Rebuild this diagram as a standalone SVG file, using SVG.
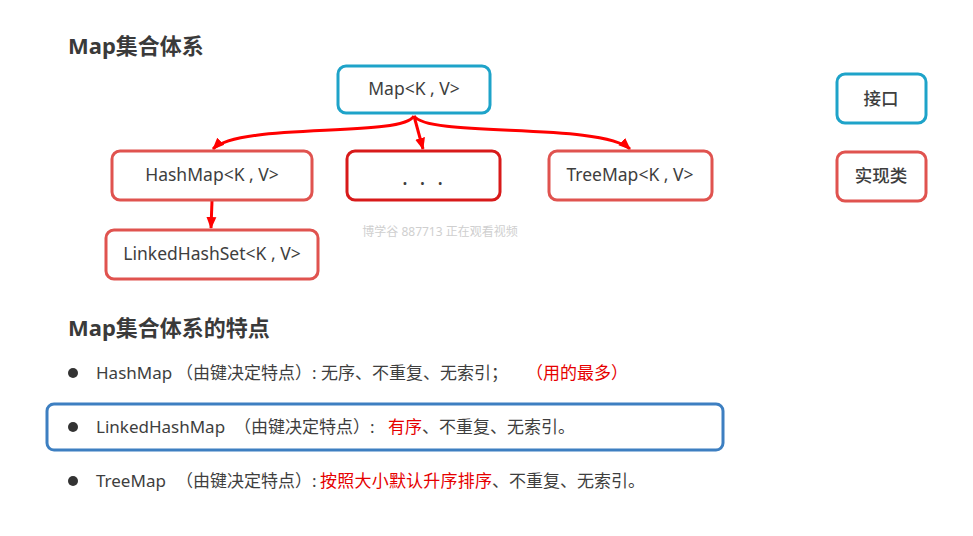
<svg xmlns="http://www.w3.org/2000/svg" width="973" height="536" viewBox="0 0 973 536">
<style>
text{font-family:"Noto Sans","Noto Sans CJK SC",sans-serif;fill:#3e3e3e}
.title{font-size:22px;font-weight:bold;fill:#3a3a3a}
.lbl{font-size:17.5px;text-anchor:middle}
.row{font-size:17px}
.red{fill:#e60000}
.ifc{fill:#fff;stroke:#1ea3c9;stroke-width:3}
.impl{fill:#fff;stroke:#e0534f;stroke-width:3}
.conn{fill:none;stroke:#ff0000;stroke-width:3}
.wm{font-size:12px;fill:#cfcfcf;text-anchor:middle}
</style>
<defs>
<marker id="ah" markerUnits="userSpaceOnUse" markerWidth="12" markerHeight="12" viewBox="0 0 12 12" refX="11" refY="6" orient="auto">
<path d="M0,1 L12,6 L0,11 Z" fill="#ff0000"/>
</marker>
</defs>
<rect width="973" height="536" fill="#fff"/>
<text class="title" x="68" y="54">Map集合体系</text>

<g id="conn">
<path class="conn" d="M414,116 C402,138 240,122 213,149" marker-end="url(#ah)"/>
<path class="conn" d="M414,116 L423,149" marker-end="url(#ah)"/>
<path class="conn" d="M414,116 C428,138 600,122 630,149" marker-end="url(#ah)"/>
<path class="conn" d="M212,201 L211,228" marker-end="url(#ah)"/>
</g>

<g id="map"><rect class="ifc" x="338" y="66" width="152" height="47" rx="8"/><text class="lbl" x="414" y="95">Map&lt;K , V&gt;</text></g>
<g id="hashmap"><rect class="impl" x="112" y="151" width="200" height="49" rx="8"/><text class="lbl" x="212" y="181">HashMap&lt;K , V&gt;</text></g>
<g id="dots"><rect x="347" y="151" width="153" height="49" rx="8" fill="#fff" stroke="#d81a1a" stroke-width="3"/><text class="lbl" x="424" y="185" style="font-size:22px;letter-spacing:3px">. . .</text></g>
<g id="treemap"><rect class="impl" x="549" y="151" width="163" height="49" rx="8"/><text class="lbl" x="630" y="181">TreeMap&lt;K , V&gt;</text></g>
<g id="linked"><rect class="impl" x="106" y="230" width="212" height="49" rx="8"/><text class="lbl" x="212" y="260">LinkedHashSet&lt;K , V&gt;</text></g>
<g id="legend-ifc"><rect class="ifc" x="837" y="74" width="89" height="49" rx="8"/><text class="lbl" x="881" y="105" style="font-weight:500">接口</text></g>
<g id="legend-impl"><rect class="impl" x="837" y="152" width="89" height="49" rx="8"/><text class="lbl" x="881" y="182" style="font-weight:500">实现类</text></g>

<text class="wm" x="440" y="236">博学谷 887713 正在观看视频</text>

<text class="title" x="68" y="336">Map集合体系的特点</text>

<g id="row1">
<circle cx="73" cy="373" r="5" fill="#333"/>
<text class="row" x="96" y="379">HashMap</text>
<text class="row" x="176" y="379">（由键决定特点）: 无序、不重复、无索引；</text>
<text class="row red" x="526" y="379">（用的最多）</text>
</g>
<g id="row2">
<rect x="47" y="404" width="676" height="46" rx="7" fill="none" stroke="#3d7fc1" stroke-width="3"/>
<circle cx="73" cy="427" r="5" fill="#333"/>
<text class="row" x="96" y="433">LinkedHashMap</text>
<text class="row" x="234" y="433">（由键决定特点）:</text>
<text class="row red" x="388" y="433">有序</text>
<text class="row" x="422" y="433">、不重复、无索引。</text>
</g>
<g id="row3">
<circle cx="73" cy="481" r="5" fill="#333"/>
<text class="row" x="96" y="487">TreeMap</text>
<text class="row" x="176" y="487">（由键决定特点）:</text>
<text class="row red" x="320" y="487" textLength="172">按照大小默认升序排序</text>
<text class="row" x="492" y="487">、不重复、无索引。</text>
</g>
</svg>
